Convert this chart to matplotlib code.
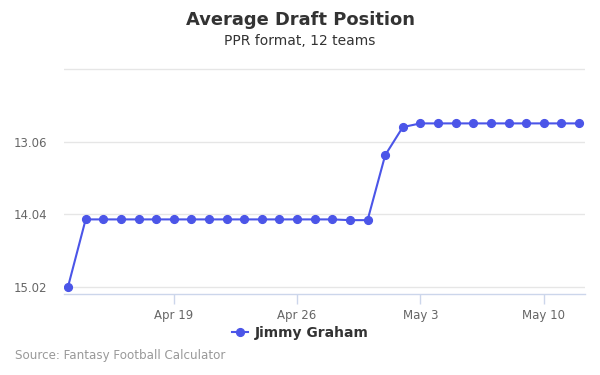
import matplotlib
matplotlib.use("Agg")
import matplotlib.pyplot as plt
import matplotlib.dates as mdates
from matplotlib.lines import Line2D
import pandas as pd

dates = ["2019-04-13", "2019-04-14", "2019-04-15", "2019-04-16", "2019-04-17",
         "2019-04-18", "2019-04-19", "2019-04-20", "2019-04-21", "2019-04-22",
         "2019-04-23", "2019-04-24", "2019-04-25", "2019-04-26", "2019-04-27",
         "2019-04-28", "2019-04-29", "2019-04-30", "2019-05-01", "2019-05-02",
         "2019-05-03", "2019-05-04", "2019-05-05", "2019-05-06", "2019-05-07",
         "2019-05-08", "2019-05-09", "2019-05-10", "2019-05-11", "2019-05-12"]
adp = [15.02, 14.11, 14.11, 14.11, 14.11, 14.11, 14.11, 14.11, 14.11, 14.11,
       14.11, 14.11, 14.11, 14.11, 14.11, 14.11, 14.12, 14.12, 13.24, 12.86,
       12.81, 12.81, 12.81, 12.81, 12.81, 12.81, 12.81, 12.81, 12.81, 12.81]
player = "Jimmy Graham"
yticks = [12.08, 13.06, 14.04, 15.02]
ytick_labels = ["", "13.06", "14.04", "15.02"]
xtick_dates = ["2019-04-19", "2019-04-26", "2019-05-03", "2019-05-10"]
xtick_labels = ["Apr 19", "Apr 26", "May 3", "May 10"]

color = "#4b55e8"
x = pd.to_datetime(dates)

fig = plt.figure(figsize=(6, 3.75), dpi=100)
ax = fig.add_axes([64/600, 1-294/375, (585-64)/600, (294-68)/375])

ax.plot(x, adp, color=color, lw=1.5, marker="o", markersize=5.6, zorder=3)

ax.set_ylim(15.12, 12.06)
ax.set_yticks(yticks)
ax.set_yticklabels(ytick_labels)
x0 = mdates.date2num(x[0]); x1 = mdates.date2num(x[-1])
ax.set_xlim(x0 - 0.23, x1 + 0.34)
ax.set_xticks(pd.to_datetime(xtick_dates))
ax.set_xticklabels(xtick_labels)

ax.grid(axis="y", color="#e6e6e6", lw=1)
ax.set_axisbelow(True)
for s in ["top", "right", "left"]:
    ax.spines[s].set_visible(False)
ax.spines["bottom"].set_color("#ccd6eb")
ax.spines["bottom"].set_linewidth(1)
ax.tick_params(axis="y", length=0, pad=12, labelsize=8.5, labelcolor="#666666")
ax.tick_params(axis="x", length=7, color="#ccd6eb", width=1, pad=4,
               labelsize=8.5, labelcolor="#666666")

fig.text(0.5, 1-20/375, "Average Draft Position", ha="center", va="center",
         fontsize=12.9, fontweight="bold", color="#333333")
fig.text(0.5, 1-41/375, "PPR format, 12 teams", ha="center", va="center",
         fontsize=10, color="#333333")

handle = Line2D([], [], color=color, lw=1.5, marker="o", markersize=5.6)
fig.legend([handle], [player], loc="center", bbox_to_anchor=(0.5, 1-333/375),
           frameon=False, handlelength=1.2, handletextpad=0.45,
           prop={"weight": "bold", "size": 10}, labelcolor="#333333")

fig.text(15/600, 1-356/375, "Source: Fantasy Football Calculator", ha="left",
         va="center", fontsize=8.6, color="#999999")

fig.savefig("out.png", dpi=100)
